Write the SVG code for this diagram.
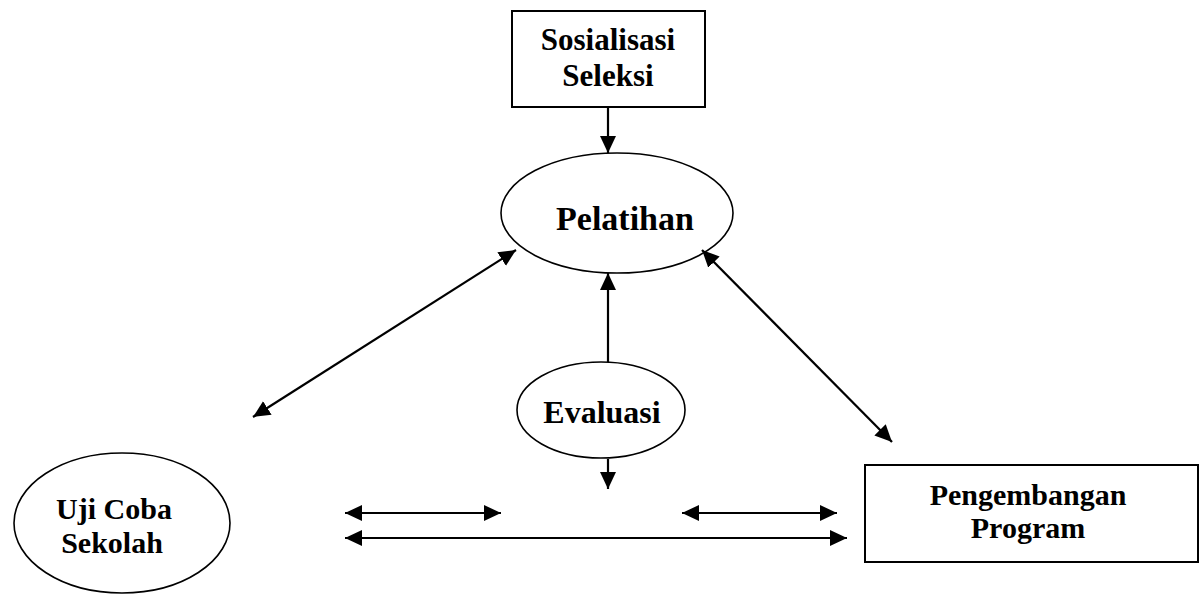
<svg xmlns="http://www.w3.org/2000/svg" width="1200" height="594" viewBox="0 0 1200 594">
<style>
.box{fill:#fff;stroke:#000;stroke-width:2}
.ell{fill:#fff;stroke:#000;stroke-width:1.6}
.t{font-family:"Liberation Serif","Times New Roman",serif;font-weight:bold;fill:#000;text-anchor:middle}
.c{stroke:#000;stroke-width:2.2;fill:none}
</style>
<defs>
<marker id="ah" markerUnits="userSpaceOnUse" markerWidth="18" markerHeight="17" refX="17" refY="8" orient="auto-start-reverse" viewBox="0 0 18 17">
<path d="M0,0 L17,8 L0,16 z" fill="#000"/>
</marker>
</defs>
<rect width="1200" height="594" fill="#fff"/>
<g id="sosialisasi">
<rect class="box" x="512" y="11" width="193" height="96"/>
<text class="t" x="608" y="50" font-size="31">Sosialisasi</text>
<text class="t" x="608" y="86" font-size="31">Seleksi</text>
</g>
<g id="pelatihan">
<ellipse class="ell" cx="617" cy="213" rx="116" ry="60"/>
<text class="t" x="625" y="230" font-size="34">Pelatihan</text>
</g>
<g id="evaluasi">
<ellipse class="ell" cx="601" cy="410" rx="84" ry="48"/>
<text class="t" x="602" y="423" font-size="32">Evaluasi</text>
</g>
<g id="ujicoba">
<ellipse class="ell" cx="122" cy="523" rx="108" ry="70"/>
<text class="t" x="114" y="519" font-size="30">Uji Coba</text>
<text class="t" x="112" y="553" font-size="30">Sekolah</text>
</g>
<g id="pengembangan">
<rect class="box" x="865" y="465" width="333" height="97"/>
<text class="t" x="1028" y="505" font-size="30">Pengembangan</text>
<text class="t" x="1028" y="538" font-size="30">Program</text>
</g>
<g id="connectors">
<line class="c" x1="608" y1="107" x2="608" y2="153" marker-end="url(#ah)"/>
<line class="c" x1="608" y1="362" x2="608" y2="273" marker-end="url(#ah)"/>
<line class="c" x1="608" y1="459" x2="608" y2="489" marker-end="url(#ah)"/>
<line class="c" x1="253" y1="417" x2="516" y2="250" marker-start="url(#ah)" marker-end="url(#ah)"/>
<line class="c" x1="702" y1="250" x2="892" y2="442" marker-start="url(#ah)" marker-end="url(#ah)"/>
<line class="c" x1="345" y1="513" x2="501" y2="513" marker-start="url(#ah)" marker-end="url(#ah)"/>
<line class="c" x1="682" y1="513" x2="837" y2="513" marker-start="url(#ah)" marker-end="url(#ah)"/>
<line class="c" x1="345" y1="538" x2="847" y2="538" marker-start="url(#ah)" marker-end="url(#ah)"/>
</g>
</svg>
